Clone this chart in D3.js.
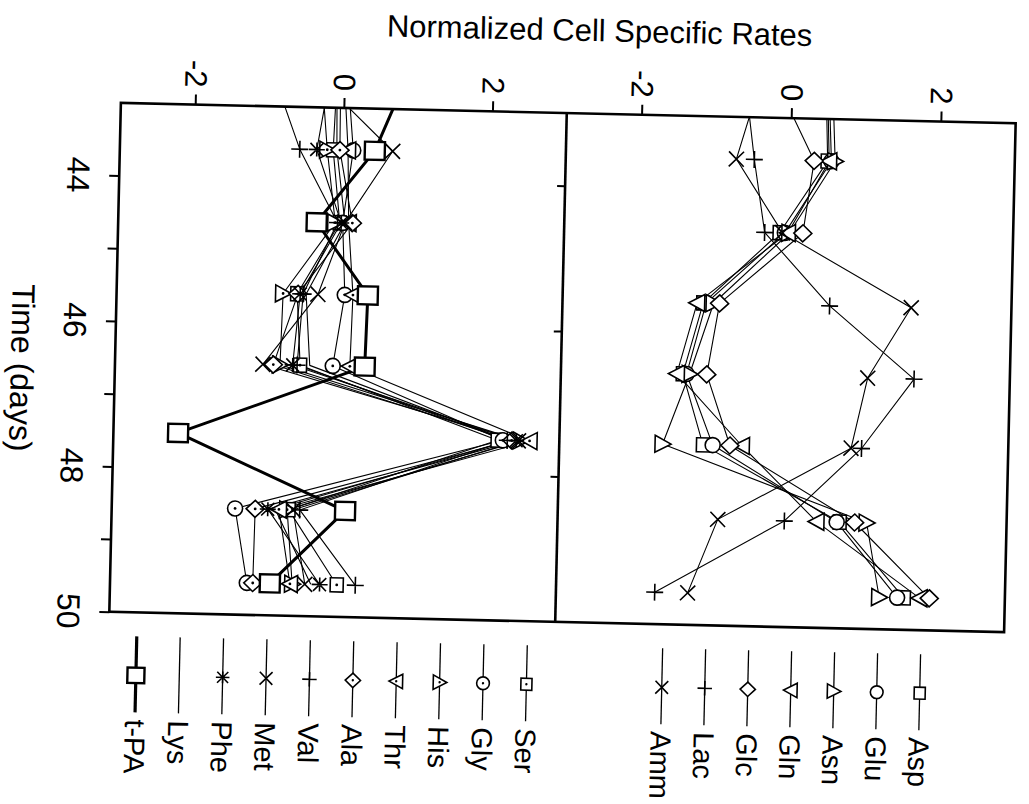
<!DOCTYPE html>
<html><head><meta charset="utf-8">
<script src="https://cdn.jsdelivr.net/npm/d3@7"></script>
<style>body{margin:0;background:#fff}</style>
</head><body>
<script>
// ---- data ----
const times = [42.6, 43.58, 44.58, 45.57, 46.55, 47.52, 48.54, 49.56];
const timeTicks = [44, 45, 46, 47, 48, 49, 50];
const timeLabels = [44, 46, 48, 50];
const rightTimeTicks = [44, 46, 48];
const rateTicks = [-2, 0, 2];

// lower panel (amino acids, t-PA)
const tpa = [0.82, 0.43, -0.33, 0.38, 0.36, -2.13, 0.14, -0.85];
const ser = [-0.10, -0.13, -0.02, -0.57, -0.51, 2.17, -0.62, 0.05];
const gly = [0.05, 0.14, 0.02, 0.07, -0.07, 2.24, -1.34, -1.16];
const his = [-0.30, -0.21, -0.08, -0.76, -0.78, 2.48, -0.64, -0.55];
const thr = [0.00, 0.07, 0.10, 0.18, 0.16, 2.60, -0.75, -0.58];
const ala = [-0.05, -0.04, 0.15, -0.56, -0.87, 2.36, -1.07, -1.08];
const val = [-0.94, -0.58, -0.05, -0.49, -0.55, 2.30, -0.47, 0.30];
const met = [-0.34, 0.67, 0.05, -0.29, -1.01, 2.45, -0.56, -0.38];
const phe = [-0.20, -0.35, 0.00, -0.53, -0.61, 2.42, -0.90, -0.18];
const lys = [-0.10, -0.08, 0.05, -0.45, -0.38, 2.32, -0.80, -0.30];

// upper panel (metabolites)
const asp = [0.46, 0.50, -0.12, -1.12, -1.37, -1.08, 0.77, 1.65];
const glu = [0.50, 0.55, -0.05, -1.08, -1.32, -0.95, 0.73, 1.56];
const asn = [0.55, 0.60, 0.01, -0.98, -1.28, -1.62, 1.13, 1.32];
const gln = [0.48, 0.52, -0.01, -1.20, -1.45, -0.56, 0.46, 1.86];
const glc = [-0.16, 0.32, 0.19, -0.90, -1.05, -0.72, 0.97, 1.99];
const lac = [-0.61, -0.48, -0.32, 0.57, 1.72, 1.04, 0.03, -1.68];
const amm = [-0.45, -0.72, -0.08, 1.66, 1.10, 0.90, -0.86, -1.24];

const leftSeries = [
  {name:"Ser", v:ser, m:"square", dot:true},
  {name:"Gly", v:gly, m:"circle", dot:true},
  {name:"His", v:his, m:"triR", dot:true},
  {name:"Thr", v:thr, m:"triL", dot:true},
  {name:"Ala", v:ala, m:"diamond", dot:true},
  {name:"Val", v:val, m:"plus"},
  {name:"Met", v:met, m:"x"},
  {name:"Phe", v:phe, m:"star"},
  {name:"Lys", v:lys, m:null},
  {name:"t-PA", v:tpa, m:"big", thick:true}
];
const rightSeries = [
  {name:"Asp", v:asp, m:"square"},
  {name:"Glu", v:glu, m:"circle"},
  {name:"Asn", v:asn, m:"triR"},
  {name:"Gln", v:gln, m:"triL"},
  {name:"Glc", v:glc, m:"diamond"},
  {name:"Lac", v:lac, m:"plus"},
  {name:"Amm", v:amm, m:"x"}
];
const leftLegendOrder = ["t-PA","Lys","Phe","Met","Val","Ala","Thr","His","Gly","Ser"];
const rightLegendOrder = ["Amm","Lac","Glc","Gln","Asn","Glu","Asp"];

// ---- drawing ----
const W = 1029, H = 804;
const FONT = "'Liberation Sans', Arial, Helvetica, sans-serif";
const svg = d3.select("body").append("svg").attr("width", W).attr("height", H)
  .style("font-family", FONT);
const g = svg.append("g").attr("transform", "rotate(1.3,563,367)");

const yT = d3.scaleLinear().domain([43, 50]).range([113, 622]);
const xL = d3.scaleLinear().domain([-3, 3]).range([115, 561]);
const xR = d3.scaleLinear().domain([-3, 3]).range([561, 1010]);

const defs = svg.append("defs");
defs.append("clipPath").attr("id", "clipL").append("rect")
  .attr("x", xL(-3)).attr("y", yT(43)).attr("width", xL(3) - xL(-3)).attr("height", yT(50) - yT(43));
defs.append("clipPath").attr("id", "clipR").append("rect")
  .attr("x", xR(-3)).attr("y", yT(43)).attr("width", xR(3) - xR(-3)).attr("height", yT(50) - yT(43));

function drawMarker(sel, type, k, dot) {
  k = k || 1;
  const sw = 1.6;
  const add = (d) => sel.append("path").attr("d", d).attr("fill", "#fff")
    .attr("stroke", "#000").attr("stroke-width", sw).attr("stroke-linejoin", "miter");
  const s = (v) => (v * k).toFixed(2);
  switch (type) {
    case "square": add(`M${s(-6.5)},${s(-7)}H${s(6.5)}V${s(7)}H${s(-6.5)}Z`); break;
    case "big": sel.append("path").attr("d", `M${s(-10)},${s(-9)}H${s(10)}V${s(9)}H${s(-10)}Z`)
        .attr("fill", "#fff").attr("stroke", "#000").attr("stroke-width", 2.4); break;
    case "circle": sel.append("circle").attr("r", 7.5 * k).attr("fill", "#fff")
        .attr("stroke", "#000").attr("stroke-width", sw); break;
    case "triR": add(`M${s(-7.5)},${s(-8.5)}L${s(8.5)},0L${s(-7.5)},${s(8.5)}Z`); break;
    case "triL": add(`M${s(7.5)},${s(-8.5)}L${s(-8.5)},0L${s(7.5)},${s(8.5)}Z`); break;
    case "diamond": add(`M${s(-9)},0L0,${s(-8.5)}L${s(9)},0L0,${s(8.5)}Z`); break;
    case "plus": add(`M${s(-8.5)},0H${s(8.5)}M0,${s(-8.5)}V${s(8.5)}`); break;
    case "x": add(`M${s(-7.5)},${s(-7.5)}L${s(7.5)},${s(7.5)}M${s(-7.5)},${s(7.5)}L${s(7.5)},${s(-7.5)}`); break;
    case "star": add(`M${s(-6.5)},${s(-6.5)}L${s(6.5)},${s(6.5)}M${s(-6.5)},${s(6.5)}L${s(6.5)},${s(-6.5)}M${s(-8)},0H${s(8)}M0,${s(-7)}V${s(7)}`); break;
  }
  if (dot) sel.append("circle").attr("r", 1.4 * k).attr("fill", "#000");
}

function drawPanel(series, xs, clipId) {
  const pg = g.append("g").attr("clip-path", `url(#${clipId})`);
  const line = d3.line().x(d => xs(d[1])).y(d => yT(d[0]));
  series.forEach(s => {
    pg.append("path").datum(times.map((t, i) => [t, s.v[i]]))
      .attr("d", line).attr("fill", "none").attr("stroke", "#000")
      .attr("stroke-width", s.thick ? 3 : 1.1).attr("stroke-linejoin", "round");
  });
  series.forEach(s => {
    if (!s.m) return;
    times.forEach((t, i) => {
      if (t < 43) return;
      const mg = pg.append("g").attr("transform", `translate(${xs(s.v[i])},${yT(t)})`);
      drawMarker(mg, s.m, 1, s.dot);
    });
  });
}
drawPanel(leftSeries, xL, "clipL");
drawPanel(rightSeries, xR, "clipR");

// frame
const frame = g.append("g").attr("fill", "none").attr("stroke", "#000").attr("stroke-width", 2.6);
frame.append("rect").attr("x", xL(-3)).attr("y", yT(43))
  .attr("width", xR(3) - xL(-3)).attr("height", yT(50) - yT(43));
frame.append("line").attr("x1", xR(-3)).attr("x2", xR(-3)).attr("y1", yT(43)).attr("y2", yT(50));

// axes (tick marks)
function styleAxis(a) {
  a.select(".domain").remove();
  a.selectAll(".tick line").attr("stroke", "#000").attr("stroke-width", 2);
  a.selectAll(".tick text").remove();
}
g.append("g").attr("transform", `translate(0,${yT(43)})`)
  .call(d3.axisTop(xL).tickValues(rateTicks).tickSize(10)).call(styleAxis);
g.append("g").attr("transform", `translate(0,${yT(43)})`)
  .call(d3.axisTop(xR).tickValues(rateTicks).tickSize(10)).call(styleAxis);
g.append("g").attr("transform", `translate(${xL(-3)},0)`)
  .call(d3.axisLeft(yT).tickValues(timeTicks).tickSize(10)).call(styleAxis);
g.append("g").attr("transform", `translate(${xR(-3)},0)`)
  .call(d3.axisLeft(yT).tickValues(rightTimeTicks).tickSize(8)).call(styleAxis);

// tick labels (rotated)
[xL, xR].forEach(xs => {
  rateTicks.forEach(v => {
    g.append("text").attr("transform", `translate(${xs(v)},${yT(43) - 17}) rotate(90)`)
      .attr("text-anchor", "end").attr("dominant-baseline", "central")
      .attr("font-size", 31).text(String(v));
  });
});
timeLabels.forEach(t => {
  g.append("text").attr("transform", `translate(74,${yT(t)}) rotate(90)`)
    .attr("text-anchor", "middle").attr("dominant-baseline", "central")
    .attr("font-size", 32).text(String(t));
});
g.append("text").attr("transform", `translate(22,380) rotate(90)`)
  .attr("text-anchor", "middle").attr("dominant-baseline", "central")
  .attr("font-size", 32).text("Time (days)");
g.append("text").attr("x", 592).attr("y", 30)
  .attr("text-anchor", "middle").attr("dominant-baseline", "central")
  .attr("font-size", 31).text("Normalized Cell Specific Rates");

// legends
function drawLegend(order, series, x0, step) {
  order.forEach((name, i) => {
    const s = series.find(d => d.name === name);
    const x = x0 + i * step;
    const lg = g.append("g");
    lg.append("line").attr("x1", x).attr("x2", x).attr("y1", 646).attr("y2", 722)
      .attr("stroke", "#000").attr("stroke-width", s.thick ? 3.2 : 1.3);
    if (s.m) {
      const mg = lg.append("g").attr("transform", `translate(${x},685)`);
      drawMarker(mg, s.m, 0.85, s.dot);
    }
    lg.append("text").attr("transform", `translate(${x},729) rotate(90)`)
      .attr("text-anchor", "start").attr("dominant-baseline", "central")
      .attr("font-size", 29).text(name);
  });
}
drawLegend(leftLegendOrder, leftSeries, 143, 43.4);
drawLegend(rightLegendOrder, rightSeries, 669, 43);
</script>
</body></html>
